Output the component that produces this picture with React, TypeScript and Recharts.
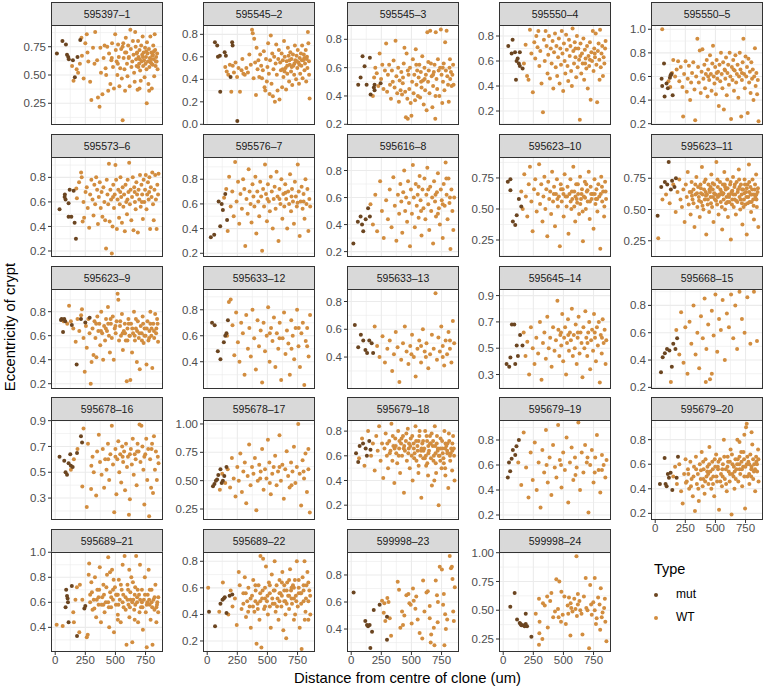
import React from 'react';
import { ScatterChart, Scatter, XAxis, YAxis, CartesianGrid } from 'recharts';

const MUT_COLOR = '#6B4520';
const WT_COLOR = '#D28D3F';
const FONT = '"Liberation Sans", Arial, Helvetica, sans-serif';

type Pt = [number, number];

// distance (um) / eccentricity pairs per clone
const mut01: Pt[] = [[14,0.69],[60,0.80],[89,0.77],[98,0.68],[108,0.66],[113,0.64],[147,0.63],[163,0.48],[185,0.66],[208,0.81]];
const wt01: Pt[] = [[140,0.58],[152,0.45],[178,0.55],[190,0.52],[205,0.60],[218,0.83],[222,0.67],[236,0.47],[250,0.78],[262,0.86],[268,0.70],[275,0.62],[290,0.44],[300,0.28],[314,0.74],[326,0.60],[332,0.88],[348,0.63],[355,0.30],[368,0.22],[375,0.74],[380,0.52],[392,0.33],[402,0.65],[410,0.76],[418,0.56],[423,0.50],[432,0.75],[440,0.36],[447,0.69],[458,0.42],[466,0.63],[472,0.78],[480,0.57],[488,0.38],[498,0.86],[503,0.72],[510,0.62],[516,0.50],[522,0.77],[528,0.66],[533,0.40],[540,0.56],[548,0.73],[553,0.47],[560,0.10],[565,0.78],[568,0.65],[575,0.55],[580,0.36],[586,0.83],[590,0.70],[596,0.60],[600,0.49],[606,0.76],[612,0.66],[618,0.40],[624,0.90],[628,0.73],[633,0.57],[640,0.62],[645,0.80],[650,0.68],[655,0.52],[660,0.44],[664,0.88],[668,0.75],[672,0.64],[676,0.58],[680,0.70],[684,0.37],[688,0.80],[692,0.66],[697,0.60],[700,0.72],[705,0.54],[710,0.45],[714,0.76],[718,0.62],[722,0.68],[726,0.84],[730,0.58],[734,0.70],[738,0.63],[742,0.48],[746,0.74],[750,0.60],[754,0.66],[758,0.55],[762,0.79],[766,0.69],[770,0.62],[774,0.42],[778,0.73],[782,0.57],[786,0.65],[790,0.84],[794,0.61],[798,0.70],[802,0.38],[806,0.67],[810,0.59],[814,0.76],[818,0.64],[822,0.49],[826,0.86],[830,0.72],[834,0.58],[838,0.66],[842,0.62],[846,0.69],[850,0.55],[812,0.68],[792,0.64],[756,0.71],[728,0.66],[702,0.64],[676,0.69],[800,0.60],[820,0.71],[836,0.62],[690,0.57],[760,0.25],[780,0.36],[700,0.38],[610,0.65],[580,0.70],[560,0.75],[520,0.60],[470,0.65]];

const mut02: Pt[] = [[64,0.73],[83,0.70],[89,0.60],[105,0.61],[145,0.64],[155,0.61],[194,0.42],[207,0.73],[211,0.70],[108,0.29],[250,0.03]];
const wt02: Pt[] = [[150,0.51],[162,0.47],[175,0.44],[188,0.53],[200,0.29],[212,0.52],[222,0.46],[235,0.55],[248,0.42],[260,0.50],[272,0.29],[285,0.48],[292,0.58],[300,0.45],[312,0.44],[325,0.50],[338,0.46],[350,0.62],[362,0.53],[372,0.84],[378,0.81],[385,0.41],[390,0.76],[398,0.55],[405,0.26],[410,0.68],[418,0.49],[425,0.57],[432,0.42],[440,0.62],[448,0.52],[455,0.41],[462,0.48],[470,0.65],[476,0.33],[482,0.30],[488,0.58],[495,0.38],[500,0.51],[506,0.72],[512,0.45],[518,0.27],[522,0.57],[528,0.79],[534,0.36],[540,0.63],[545,0.25],[550,0.49],[556,0.60],[562,0.20],[568,0.54],[573,0.71],[578,0.44],[584,0.30],[590,0.58],[595,0.66],[600,0.22],[606,0.55],[612,0.48],[618,0.63],[622,0.33],[628,0.57],[633,0.42],[638,0.74],[644,0.60],[650,0.50],[655,0.31],[660,0.56],[665,0.45],[670,0.68],[676,0.61],[680,0.38],[686,0.53],[690,0.64],[696,0.47],[700,0.58],[706,0.35],[712,0.62],[716,0.52],[722,0.44],[728,0.70],[732,0.57],[738,0.40],[742,0.61],[748,0.50],[752,0.66],[758,0.55],[762,0.36],[768,0.59],[772,0.45],[778,0.63],[782,0.52],[788,0.70],[792,0.41],[798,0.57],[802,0.62],[808,0.48],[812,0.54],[818,0.66],[822,0.38],[828,0.60],[832,0.50],[836,0.82],[840,0.72],[845,0.56],[850,0.23],[846,0.44],[826,0.58],[806,0.59],[786,0.57],[766,0.53],[744,0.56],[724,0.54],[702,0.51],[682,0.57],[664,0.52],[642,0.47],[626,0.49]];

const mut03: Pt[] = [[58,0.48],[78,0.53],[94,0.68],[111,0.61],[128,0.48],[155,0.67],[161,0.41],[188,0.46],[194,0.48],[194,0.44],[244,0.49]];
const wt03: Pt[] = [[180,0.40],[190,0.53],[200,0.60],[212,0.56],[225,0.47],[236,0.70],[248,0.52],[258,0.62],[268,0.45],[280,0.58],[290,0.77],[298,0.43],[305,0.55],[315,0.62],[322,0.48],[330,0.38],[338,0.58],[345,0.50],[352,0.65],[360,0.46],[368,0.79],[375,0.54],[382,0.42],[390,0.60],[396,0.36],[402,0.51],[410,0.44],[416,0.57],[422,0.41],[428,0.49],[436,0.63],[442,0.74],[448,0.43],[454,0.25],[460,0.70],[466,0.38],[470,0.24],[476,0.55],[482,0.45],[488,0.60],[494,0.35],[500,0.26],[506,0.50],[512,0.66],[518,0.42],[524,0.55],[530,0.37],[536,0.73],[542,0.48],[548,0.58],[554,0.40],[560,0.53],[566,0.62],[572,0.39],[578,0.57],[584,0.46],[590,0.68],[596,0.51],[602,0.34],[608,0.60],[614,0.44],[620,0.55],[626,0.30],[632,0.85],[638,0.50],[644,0.58],[650,0.42],[656,0.86],[662,0.63],[668,0.54],[674,0.32],[680,0.47],[686,0.57],[692,0.62],[698,0.24],[702,0.85],[708,0.52],[714,0.45],[720,0.66],[726,0.58],[732,0.40],[738,0.60],[744,0.87],[750,0.55],[756,0.35],[762,0.50],[768,0.63],[774,0.44],[780,0.78],[786,0.58],[792,0.86],[798,0.54],[804,0.48],[810,0.36],[816,0.60],[822,0.52],[828,0.57],[834,0.47],[840,0.55],[846,0.62],[850,0.48],[700,0.40],[610,0.52],[640,0.64],[760,0.60],[820,0.66],[540,0.62],[470,0.58],[430,0.53],[580,0.50],[680,0.55]];

const mut04: Pt[] = [[42,0.72],[78,0.77],[70,0.66],[98,0.67],[111,0.60],[130,0.58],[138,0.56],[161,0.54],[106,0.45],[138,0.67],[120,0.62]];
const wt04: Pt[] = [[172,0.58],[186,0.73],[198,0.48],[210,0.45],[222,0.85],[234,0.66],[246,0.35],[258,0.75],[266,0.62],[275,0.80],[285,0.71],[292,0.84],[300,0.56],[308,0.68],[318,0.42],[330,0.19],[338,0.77],[345,0.60],[352,0.84],[360,0.72],[368,0.50],[374,0.65],[380,0.80],[388,0.46],[395,0.70],[402,0.58],[410,0.76],[416,0.38],[422,0.67],[430,0.82],[436,0.55],[442,0.72],[448,0.48],[456,0.63],[462,0.78],[468,0.42],[474,0.70],[480,0.57],[486,0.84],[492,0.66],[498,0.36],[504,0.74],[510,0.60],[516,0.50],[522,0.81],[528,0.69],[534,0.56],[540,0.44],[546,0.77],[552,0.64],[558,0.72],[564,0.52],[570,0.40],[576,0.86],[582,0.68],[588,0.58],[594,0.75],[600,0.63],[606,0.47],[612,0.80],[618,0.55],[624,0.70],[630,0.61],[636,0.13],[642,0.74],[648,0.50],[654,0.66],[660,0.58],[666,0.78],[672,0.45],[678,0.69],[684,0.62],[690,0.54],[696,0.72],[702,0.38],[708,0.64],[714,0.56],[720,0.75],[726,0.29],[732,0.67],[738,0.60],[744,0.84],[750,0.52],[756,0.70],[762,0.63],[768,0.82],[774,0.57],[780,0.27],[786,0.68],[792,0.74],[798,0.61],[804,0.85],[810,0.55],[816,0.66],[822,0.72],[828,0.48],[834,0.63],[840,0.58],[846,0.70],[850,0.76],[800,0.45],[760,0.66],[720,0.61],[680,0.58],[640,0.64],[600,0.70]];

const mut05: Pt[] = [[53,0.58],[58,0.52],[73,0.71],[94,0.54],[105,0.50],[78,0.43],[122,0.59],[134,0.62],[145,0.44],[128,0.61]];
const wt05: Pt[] = [[58,1.00],[110,0.56],[125,0.51],[140,0.63],[150,0.74],[165,0.60],[178,0.66],[190,0.73],[200,0.56],[212,0.68],[226,0.51],[232,0.26],[240,0.62],[252,0.73],[262,0.47],[270,0.58],[280,0.69],[290,0.40],[298,0.55],[306,0.63],[316,0.72],[326,0.49],[332,0.23],[340,0.60],[350,0.92],[356,0.68],[362,0.55],[370,0.82],[378,0.46],[385,0.64],[392,0.83],[400,0.58],[408,0.70],[414,0.50],[420,0.62],[428,0.74],[434,0.43],[440,0.66],[448,0.57],[455,0.78],[462,0.62],[468,0.48],[474,0.71],[480,0.86],[486,0.60],[492,0.54],[498,0.68],[504,0.45],[510,0.74],[516,0.58],[522,0.64],[528,0.35],[534,0.70],[540,0.56],[546,0.80],[552,0.62],[558,0.50],[564,0.72],[570,0.32],[576,0.66],[582,0.58],[588,0.76],[594,0.44],[600,0.63],[606,0.70],[612,0.53],[618,0.80],[624,0.60],[630,0.24],[636,0.68],[642,0.57],[648,0.74],[654,0.48],[660,0.65],[666,0.78],[672,0.55],[678,0.62],[684,0.70],[690,0.42],[696,0.60],[702,0.80],[708,0.66],[714,0.26],[720,0.57],[726,0.72],[732,0.92],[738,0.62],[744,0.50],[750,0.77],[756,0.60],[762,0.68],[768,0.29],[774,0.75],[780,0.55],[786,0.64],[792,0.46],[798,0.72],[804,0.58],[810,0.66],[816,0.40],[822,0.60],[828,0.84],[834,0.52],[840,0.63],[846,0.45],[852,0.57],[858,0.22],[720,0.63],[650,0.66],[580,0.65],[510,0.63],[440,0.60]];

const mut06: Pt[] = [[36,0.54],[78,0.64],[80,0.66],[86,0.62],[111,0.59],[120,0.70],[153,0.69],[111,0.48],[134,0.48],[161,0.43],[172,0.30]];
const wt06: Pt[] = [[175,0.71],[180,0.63],[198,0.76],[215,0.84],[220,0.80],[228,0.44],[235,0.60],[240,0.47],[252,0.68],[262,0.72],[270,0.55],[282,0.39],[290,0.66],[300,0.78],[310,0.62],[318,0.49],[325,0.74],[332,0.58],[340,0.80],[348,0.70],[355,0.42],[362,0.64],[370,0.76],[378,0.55],[385,0.68],[392,0.48],[400,0.72],[408,0.60],[415,0.45],[422,0.22],[428,0.78],[434,0.66],[440,0.58],[446,0.91],[452,0.44],[458,0.70],[464,0.62],[470,0.18],[476,0.40],[482,0.74],[488,0.55],[494,0.66],[500,0.90],[506,0.78],[512,0.38],[518,0.62],[524,0.70],[530,0.47],[536,0.58],[542,0.80],[548,0.64],[554,0.43],[560,0.72],[566,0.56],[572,0.66],[578,0.36],[584,0.74],[590,0.60],[596,0.50],[602,0.78],[608,0.68],[614,0.92],[620,0.58],[626,0.70],[632,0.45],[638,0.64],[644,0.80],[650,0.37],[656,0.72],[662,0.60],[668,0.54],[674,0.76],[680,0.66],[686,0.35],[692,0.70],[698,0.62],[704,0.82],[710,0.56],[716,0.74],[722,0.66],[728,0.46],[734,0.78],[740,0.60],[746,0.70],[752,0.82],[758,0.54],[764,0.66],[770,0.76],[776,0.62],[782,0.80],[788,0.38],[794,0.72],[800,0.64],[806,0.84],[812,0.58],[818,0.45],[824,0.70],[830,0.82],[836,0.62],[842,0.38],[848,0.74],[854,0.66],[858,0.83],[780,0.68],[720,0.60],[660,0.68],[600,0.62],[540,0.68],[480,0.64]];

const mut07: Pt[] = [[30,0.33],[58,0.35],[95,0.62],[108,0.42],[130,0.55],[150,0.68],[165,0.47],[120,0.60]];
const wt07: Pt[] = [[140,0.65],[158,0.72],[170,0.38],[182,0.82],[195,0.58],[208,0.70],[220,0.50],[232,0.94],[244,0.62],[256,0.78],[266,0.44],[276,0.68],[288,0.56],[298,0.80],[308,0.72],[316,0.26],[326,0.64],[336,0.52],[344,0.88],[352,0.70],[360,0.60],[368,0.45],[376,0.76],[384,0.66],[392,0.58],[400,0.82],[408,0.36],[416,0.70],[424,0.62],[432,0.50],[440,0.78],[448,0.66],[456,0.22],[464,0.72],[472,0.58],[480,0.92],[488,0.68],[496,0.46],[504,0.76],[512,0.62],[520,0.54],[528,0.82],[536,0.70],[544,0.40],[552,0.64],[560,0.74],[568,0.56],[576,0.86],[584,0.66],[592,0.30],[600,0.72],[608,0.60],[616,0.80],[624,0.48],[632,0.68],[640,0.58],[648,0.76],[656,0.64],[664,0.40],[672,0.70],[680,0.60],[688,0.84],[696,0.54],[704,0.72],[712,0.62],[720,0.44],[728,0.78],[736,0.66],[744,0.58],[752,0.92],[760,0.70],[768,0.34],[776,0.62],[784,0.74],[792,0.56],[800,0.68],[808,0.48],[816,0.80],[824,0.60],[832,0.72],[840,0.38],[848,0.64],[855,0.58],[600,0.64],[700,0.66],[500,0.64],[800,0.62],[650,0.69],[750,0.61]];

const mut08: Pt[] = [[18,0.26],[55,0.42],[78,0.46],[100,0.35],[120,0.44],[140,0.52],[155,0.46],[90,0.40]];
const wt08: Pt[] = [[160,0.55],[180,0.40],[200,0.62],[215,0.35],[240,0.72],[255,0.50],[270,0.30],[290,0.58],[305,0.44],[320,0.66],[335,0.38],[350,0.75],[362,0.54],[375,0.28],[388,0.62],[398,0.48],[408,0.70],[416,0.57],[424,0.34],[432,0.64],[440,0.80],[448,0.50],[456,0.60],[464,0.42],[472,0.72],[480,0.56],[488,0.24],[496,0.66],[504,0.48],[512,0.84],[520,0.60],[528,0.38],[536,0.70],[544,0.54],[552,0.62],[560,0.45],[568,0.76],[576,0.58],[584,0.32],[592,0.66],[600,0.52],[608,0.74],[616,0.44],[624,0.62],[632,0.82],[640,0.55],[648,0.36],[656,0.68],[664,0.50],[672,0.60],[680,0.26],[688,0.72],[696,0.57],[704,0.46],[712,0.64],[720,0.78],[728,0.52],[736,0.40],[744,0.66],[752,0.58],[760,0.30],[768,0.70],[776,0.54],[784,0.86],[792,0.62],[800,0.44],[808,0.74],[816,0.56],[824,0.22],[832,0.66],[840,0.50],[848,0.36],[855,0.60],[700,0.62],[640,0.66],[580,0.50],[760,0.55],[820,0.60],[720,0.48],[560,0.68],[790,0.74]];

const mut09: Pt[] = [[38,0.72],[60,0.65],[80,0.40],[100,0.37],[112,0.45],[130,0.58],[150,0.52],[60,0.74]];
const wt09: Pt[] = [[150,0.64],[162,0.50],[175,0.78],[188,0.60],[200,0.44],[212,0.70],[222,0.84],[234,0.56],[244,0.32],[256,0.66],[266,0.74],[278,0.48],[288,0.62],[298,0.86],[306,0.54],[316,0.70],[326,0.40],[334,0.60],[342,0.76],[350,0.50],[358,0.66],[366,0.28],[374,0.72],[382,0.58],[390,0.64],[398,0.46],[406,0.80],[414,0.56],[422,0.68],[430,0.36],[438,0.62],[446,0.74],[454,0.52],[462,0.60],[470,0.20],[478,0.70],[486,0.56],[494,0.66],[502,0.44],[510,0.78],[518,0.60],[526,0.52],[534,0.68],[542,0.30],[550,0.62],[558,0.74],[566,0.50],[574,0.58],[582,0.84],[590,0.64],[598,0.40],[606,0.70],[614,0.55],[622,0.62],[630,0.46],[638,0.76],[646,0.58],[654,0.66],[662,0.24],[670,0.60],[678,0.72],[686,0.50],[694,0.64],[702,0.56],[710,0.80],[718,0.42],[726,0.68],[734,0.58],[742,0.62],[750,0.34],[758,0.74],[766,0.54],[774,0.66],[782,0.48],[790,0.70],[798,0.60],[806,0.18],[814,0.76],[822,0.56],[830,0.64],[838,0.44],[846,0.72],[854,0.58],[600,0.60],[640,0.54],[700,0.65],[760,0.62],[820,0.68],[560,0.56],[500,0.62],[450,0.58],[680,0.59],[720,0.56],[780,0.58],[840,0.52],[620,0.70],[420,0.62],[480,0.66],[530,0.60],[570,0.64],[610,0.58],[650,0.62],[690,0.70],[730,0.62],[770,0.58],[810,0.62],[850,0.64],[590,0.52],[660,0.48]];

const mut10: Pt[] = [[20,0.45],[50,0.68],[80,0.72],[100,0.70],[112,0.88],[140,0.73],[160,0.68],[172,0.75],[130,0.66]];
const wt10: Pt[] = [[25,0.27],[60,0.58],[90,0.62],[120,0.55],[150,0.70],[170,0.48],[185,0.64],[200,0.74],[210,0.58],[222,0.52],[234,0.66],[244,0.40],[254,0.70],[262,0.60],[270,0.80],[278,0.54],[286,0.64],[294,0.46],[302,0.72],[310,0.58],[318,0.66],[326,0.36],[334,0.62],[342,0.76],[350,0.52],[356,0.68],[362,0.60],[370,0.44],[376,0.70],[382,0.56],[388,0.84],[394,0.62],[400,0.50],[406,0.66],[412,0.58],[418,0.74],[424,0.30],[430,0.62],[436,0.54],[442,0.70],[448,0.48],[454,0.64],[460,0.60],[466,0.78],[472,0.52],[478,0.66],[484,0.40],[490,0.70],[496,0.58],[502,0.62],[508,0.88],[514,0.54],[520,0.68],[526,0.46],[532,0.62],[538,0.72],[544,0.56],[550,0.64],[556,0.34],[562,0.70],[568,0.58],[574,0.80],[580,0.50],[586,0.66],[592,0.60],[598,0.74],[604,0.44],[610,0.62],[616,0.56],[622,0.70],[628,0.26],[634,0.64],[640,0.58],[646,0.76],[652,0.52],[658,0.68],[664,0.62],[670,0.46],[676,0.72],[682,0.56],[688,0.66],[694,0.82],[700,0.60],[706,0.50],[712,0.70],[718,0.62],[724,0.38],[730,0.66],[736,0.58],[742,0.74],[748,0.54],[754,0.64],[760,0.30],[766,0.70],[772,0.60],[778,0.86],[784,0.56],[790,0.68],[796,0.48],[802,0.62],[808,0.74],[814,0.58],[820,0.42],[826,0.66],[832,0.60],[838,0.78],[844,0.52],[850,0.64],[856,0.36],[640,0.65],[600,0.56],[560,0.62],[520,0.60],[480,0.60],[700,0.68],[740,0.63],[780,0.64],[820,0.62],[460,0.68],[420,0.64],[380,0.63],[660,0.58],[720,0.55],[760,0.67],[800,0.56],[840,0.62],[300,0.64],[580,0.68],[620,0.62],[305,0.61],[318,0.55],[333,0.70],[347,0.63],[364,0.57],[379,0.67],[393,0.53],[408,0.72],[421,0.61],[437,0.58],[451,0.66],[463,0.55],[477,0.71],[489,0.63],[505,0.57],[517,0.74],[529,0.61],[541,0.66],[553,0.52],[566,0.63],[577,0.70],[589,0.55],[601,0.67],[613,0.60],[626,0.72],[637,0.54],[649,0.62],[661,0.70],[673,0.57],[685,0.64],[697,0.74],[709,0.58],[721,0.66],[733,0.52],[745,0.70],[757,0.60],[769,0.55],[781,0.72],[793,0.62],[805,0.66],[817,0.53],[829,0.70],[841,0.58],[853,0.67]];

const mut11: Pt[] = [[48,0.73],[53,0.74],[65,0.63],[83,0.72],[138,0.69],[214,0.74],[250,0.71],[286,0.75],[178,0.36],[75,0.74]];
const wt11: Pt[] = [[70,0.72],[100,0.70],[115,0.85],[130,0.72],[150,0.66],[170,0.55],[185,0.74],[200,0.64],[215,0.77],[222,0.82],[235,0.58],[245,0.30],[255,0.68],[262,0.50],[275,0.74],[285,0.62],[295,0.20],[302,0.38],[310,0.66],[318,0.44],[326,0.72],[334,0.58],[342,0.42],[350,0.76],[358,0.64],[366,0.70],[374,0.52],[382,0.80],[390,0.62],[398,0.40],[406,0.68],[414,0.56],[422,0.74],[430,0.64],[438,0.84],[446,0.60],[454,0.46],[462,0.70],[470,0.58],[478,0.76],[486,0.40],[494,0.66],[502,0.62],[510,0.72],[518,0.95],[524,0.90],[530,0.56],[538,0.68],[546,0.60],[554,0.78],[562,0.48],[570,0.64],[578,0.70],[586,0.56],[594,0.22],[600,0.66],[608,0.74],[616,0.60],[624,0.23],[630,0.70],[638,0.46],[646,0.62],[654,0.80],[662,0.56],[670,0.66],[678,0.38],[686,0.72],[694,0.58],[702,0.32],[710,0.68],[718,0.62],[726,0.76],[734,0.54],[742,0.66],[750,0.60],[758,0.36],[766,0.72],[774,0.56],[782,0.64],[790,0.80],[798,0.60],[806,0.33],[814,0.70],[822,0.58],[830,0.78],[838,0.62],[846,0.74],[854,0.55],[560,0.62],[620,0.60],[680,0.64],[740,0.60],[800,0.66],[840,0.66],[500,0.68],[440,0.70],[380,0.64],[340,0.70],[420,0.66],[460,0.74],[540,0.72],[580,0.62],[610,0.70],[640,0.66],[670,0.74],[700,0.62],[730,0.70],[760,0.66],[790,0.70],[820,0.64],[850,0.70],[600,0.56],[660,0.60],[720,0.56],[780,0.58]];

const mut12: Pt[] = [[40,0.70],[62,0.68],[88,0.48],[110,0.42],[138,0.55],[150,0.60],[160,0.62],[172,0.72]];
const wt12: Pt[] = [[165,0.60],[180,0.86],[195,0.88],[210,0.68],[225,0.45],[240,0.78],[255,0.55],[268,0.40],[282,0.70],[296,0.62],[310,0.30],[324,0.76],[338,0.50],[350,0.66],[362,0.44],[376,0.80],[390,0.58],[404,0.34],[418,0.72],[430,0.52],[444,0.64],[456,0.24],[468,0.70],[480,0.48],[494,0.60],[506,0.82],[518,0.40],[530,0.66],[542,0.56],[554,0.74],[566,0.36],[578,0.62],[590,0.50],[602,0.70],[614,0.26],[626,0.58],[638,0.78],[650,0.46],[662,0.64],[674,0.54],[686,0.30],[698,0.72],[710,0.60],[722,0.42],[734,0.66],[746,0.80],[758,0.52],[770,0.36],[782,0.62],[794,0.70],[806,0.22],[818,0.56],[830,0.66],[842,0.44],[854,0.76],[520,0.62],[600,0.58],[700,0.50],[760,0.66],[830,0.52]];

const mut13: Pt[] = [[30,0.63],[58,0.47],[80,0.56],[100,0.52],[118,0.45],[132,0.43],[150,0.52],[170,0.50],[182,0.43]];
const wt13: Pt[] = [[195,0.62],[215,0.48],[235,0.40],[260,0.55],[280,0.36],[300,0.46],[320,0.52],[340,0.30],[355,0.42],[370,0.58],[385,0.47],[400,0.22],[415,0.38],[430,0.50],[445,0.62],[460,0.44],[475,0.35],[490,0.48],[505,0.56],[520,0.40],[535,0.26],[550,0.46],[565,0.52],[580,0.36],[595,0.60],[610,0.44],[625,0.50],[640,0.32],[655,0.42],[670,0.56],[685,0.46],[700,0.86],[712,0.38],[724,0.54],[736,0.44],[748,0.62],[760,0.48],[772,0.34],[784,0.52],[796,0.42],[808,0.58],[820,0.46],[832,0.36],[844,0.66],[855,0.50],[760,0.40],[820,0.52],[620,0.40],[580,0.48],[500,0.42]];

const mut14: Pt[] = [[28,0.38],[50,0.36],[60,0.43],[72,0.68],[92,0.68],[100,0.38],[112,0.52],[122,0.44],[140,0.60],[160,0.52]];
const wt14: Pt[] = [[170,0.62],[185,0.44],[200,0.55],[215,0.30],[230,0.66],[245,0.50],[260,0.38],[275,0.58],[290,0.46],[305,0.70],[318,0.26],[330,0.54],[342,0.62],[354,0.42],[366,0.74],[378,0.50],[390,0.58],[402,0.36],[414,0.66],[426,0.48],[438,0.56],[450,0.86],[458,0.64],[466,0.44],[474,0.60],[482,0.52],[490,0.76],[498,0.40],[506,0.58],[514,0.66],[522,0.30],[530,0.54],[538,0.72],[546,0.48],[554,0.62],[562,0.56],[570,0.80],[578,0.44],[586,0.60],[594,0.50],[602,0.68],[610,0.38],[618,0.58],[626,0.74],[634,0.46],[642,0.62],[650,0.54],[658,0.28],[666,0.66],[674,0.50],[682,0.78],[690,0.58],[698,0.44],[706,0.62],[714,0.70],[722,0.34],[730,0.56],[738,0.64],[746,0.48],[754,0.76],[762,0.58],[770,0.40],[778,0.66],[786,0.52],[794,0.70],[802,0.24],[810,0.60],[818,0.46],[826,0.72],[834,0.54],[842,0.64],[850,0.38],[856,0.56],[620,0.62],[700,0.54],[760,0.62],[540,0.60],[480,0.62],[820,0.58]];

const mut15: Pt[] = [[48,0.31],[62,0.42],[80,0.45],[98,0.48],[118,0.47],[138,0.35],[150,0.52],[168,0.48],[182,0.56]];
const wt15: Pt[] = [[130,0.24],[175,0.62],[200,0.44],[215,0.75],[235,0.38],[250,0.64],[268,0.30],[285,0.68],[300,0.52],[318,0.80],[335,0.44],[350,0.60],[365,0.34],[380,0.72],[395,0.56],[410,0.85],[425,0.48],[440,0.66],[455,0.26],[470,0.76],[485,0.58],[500,0.88],[515,0.46],[530,0.70],[545,0.62],[560,0.84],[578,0.40],[595,0.74],[612,0.64],[630,0.88],[648,0.56],[665,0.80],[680,0.48],[700,0.90],[720,0.70],[742,0.60],[765,0.86],[790,0.52],[820,0.90],[845,0.54],[420,0.24],[470,0.30]];

const mut16: Pt[] = [[36,0.62],[75,0.59],[86,0.50],[98,0.48],[111,0.57],[125,0.64],[130,0.55],[145,0.54],[181,0.65],[214,0.78],[223,0.73]];
const wt16: Pt[] = [[130,0.52],[155,0.60],[185,0.68],[225,0.39],[235,0.84],[262,0.23],[272,0.72],[298,0.37],[300,0.55],[310,0.62],[320,0.50],[340,0.32],[348,0.66],[362,0.79],[372,0.58],[385,0.48],[395,0.68],[406,0.38],[415,0.60],[426,0.52],[438,0.72],[448,0.44],[458,0.64],[470,0.86],[480,0.56],[490,0.19],[500,0.68],[508,0.33],[516,0.60],[524,0.74],[532,0.50],[540,0.64],[548,0.42],[556,0.70],[564,0.58],[572,0.66],[580,0.36],[588,0.72],[596,0.54],[604,0.62],[612,0.17],[620,0.29],[628,0.68],[636,0.56],[644,0.76],[652,0.48],[660,0.64],[668,0.60],[676,0.40],[684,0.72],[692,0.66],[700,0.87],[708,0.58],[716,0.86],[724,0.70],[732,0.52],[740,0.25],[748,0.64],[756,0.76],[764,0.44],[772,0.68],[780,0.16],[788,0.60],[796,0.38],[804,0.72],[812,0.34],[820,0.78],[828,0.52],[836,0.66],[844,0.44],[852,0.62],[858,0.57],[800,0.68],[740,0.62],[680,0.66],[620,0.64],[560,0.62],[500,0.62],[440,0.60]];

const mut17: Pt[] = [[48,0.45],[60,0.47],[72,0.50],[82,0.51],[92,0.55],[110,0.60],[130,0.50],[142,0.54],[160,0.62],[120,0.48]];
const wt17: Pt[] = [[105,0.42],[125,0.56],[150,0.48],[170,0.60],[190,0.44],[205,0.70],[220,0.52],[235,0.36],[250,0.62],[262,0.50],[275,0.74],[288,0.40],[300,0.58],[312,0.66],[324,0.30],[336,0.54],[348,0.82],[360,0.46],[372,0.62],[384,0.56],[396,0.70],[408,0.24],[420,0.50],[432,0.64],[444,0.58],[456,0.78],[468,0.42],[480,0.60],[492,0.52],[504,0.86],[516,0.66],[528,0.38],[540,0.56],[552,0.62],[564,0.72],[576,0.46],[588,0.58],[600,0.90],[612,0.50],[624,0.64],[636,0.34],[648,0.60],[660,0.76],[672,0.54],[684,0.44],[696,0.66],[708,0.58],[720,0.80],[732,0.48],[744,0.62],[756,1.00],[768,0.56],[780,0.28],[792,0.68],[804,0.52],[816,0.74],[828,0.40],[840,0.60],[852,0.22],[700,0.46],[600,0.62],[520,0.48],[440,0.52],[800,0.58],[840,0.78]];

const mut18: Pt[] = [[40,0.62],[58,0.55],[70,0.68],[98,0.70],[120,0.66],[130,0.60],[150,0.72],[160,0.65]];
const wt18: Pt[] = [[65,0.58],[90,0.74],[110,0.52],[140,0.80],[165,0.60],[180,0.70],[195,0.48],[208,0.76],[220,0.64],[232,0.84],[244,0.56],[256,0.70],[266,0.42],[276,0.66],[286,0.78],[296,0.60],[306,0.50],[316,0.72],[326,0.64],[334,0.86],[342,0.56],[350,0.68],[358,0.38],[366,0.74],[374,0.62],[382,0.54],[390,0.80],[398,0.66],[406,0.46],[414,0.70],[422,0.60],[430,0.76],[438,0.30],[446,0.64],[454,0.72],[462,0.56],[470,0.82],[478,0.66],[486,0.50],[494,0.74],[502,0.60],[510,0.40],[518,0.70],[526,0.62],[534,0.84],[542,0.56],[550,0.68],[558,0.46],[566,0.76],[574,0.60],[582,0.26],[590,0.70],[598,0.58],[606,0.66],[614,0.80],[622,0.52],[630,0.72],[638,0.44],[646,0.64],[654,0.76],[662,0.58],[670,0.36],[678,0.68],[686,0.60],[694,0.84],[702,0.54],[710,0.70],[718,0.64],[726,0.20],[734,0.60],[742,0.74],[750,0.50],[758,0.66],[766,0.58],[774,0.80],[782,0.44],[790,0.68],[798,0.62],[806,0.34],[814,0.72],[822,0.56],[830,0.66],[838,0.48],[846,0.76],[854,0.60],[858,0.40],[520,0.66],[560,0.72],[600,0.64],[640,0.68],[680,0.72],[720,0.66],[760,0.62],[800,0.70],[840,0.64],[480,0.70],[440,0.68],[400,0.72],[360,0.66],[620,0.60],[700,0.62],[780,0.66],[820,0.60],[660,0.70],[740,0.56],[580,0.64],[300,0.70],[320,0.62],[345,0.76],[370,0.68],[395,0.60],[418,0.74],[436,0.66],[458,0.78],[474,0.62],[491,0.68],[507,0.76],[523,0.58],[539,0.72],[552,0.64],[568,0.80],[584,0.66],[597,0.72],[611,0.58],[626,0.76],[641,0.62],[655,0.70],[668,0.78],[683,0.56],[697,0.68],[712,0.76],[727,0.60],[741,0.66],[755,0.72],[769,0.54],[783,0.70],[797,0.64],[811,0.78],[826,0.62],[840,0.70],[852,0.66],[632,0.54],[705,0.46],[780,0.50],[690,0.40],[560,0.52]];

const mut19: Pt[] = [[38,0.50],[48,0.62],[58,0.55],[70,0.65],[80,0.72],[100,0.68],[110,0.75],[130,0.80]];
const wt19: Pt[] = [[125,0.62],[150,0.44],[170,0.86],[190,0.58],[210,0.34],[228,0.70],[245,0.48],[262,0.78],[278,0.40],[294,0.62],[310,0.26],[325,0.72],[340,0.54],[355,0.88],[370,0.46],[385,0.66],[400,0.36],[414,0.76],[428,0.58],[442,0.50],[456,0.92],[470,0.64],[484,0.42],[498,0.70],[512,0.56],[526,0.82],[540,0.30],[554,0.62],[568,0.74],[582,0.48],[596,0.66],[610,0.58],[624,0.94],[638,0.40],[652,0.70],[666,0.54],[680,0.76],[694,0.62],[708,0.22],[722,0.60],[736,0.72],[750,0.46],[764,0.66],[778,0.84],[792,0.56],[806,0.38],[820,0.68],[834,0.60],[848,0.50],[858,0.64],[600,0.52],[700,0.66],[480,0.60],[360,0.60],[760,0.54],[820,0.56]];

const mut20: Pt[] = [[39,0.44],[78,0.65],[86,0.44],[105,0.52],[114,0.49],[128,0.53],[142,0.39],[178,0.49],[189,0.66],[95,0.42]];
const wt20: Pt[] = [[150,0.50],[165,0.58],[180,0.44],[200,0.60],[215,0.38],[228,0.28],[240,0.52],[252,0.64],[262,0.46],[272,0.56],[282,0.40],[292,0.62],[302,0.48],[312,0.34],[322,0.58],[330,0.22],[338,0.66],[346,0.44],[354,0.52],[362,0.30],[370,0.60],[378,0.48],[386,0.70],[394,0.42],[402,0.56],[410,0.36],[418,0.64],[426,0.50],[434,0.58],[442,0.44],[450,0.74],[458,0.54],[466,0.40],[474,0.62],[482,0.50],[490,0.34],[498,0.58],[506,0.68],[514,0.46],[522,0.56],[530,0.23],[538,0.64],[546,0.52],[554,0.42],[562,0.60],[570,0.80],[578,0.48],[586,0.56],[594,0.38],[602,0.66],[610,0.54],[618,0.46],[626,0.72],[634,0.19],[642,0.60],[650,0.50],[658,0.40],[666,0.64],[674,0.56],[682,0.80],[690,0.46],[698,0.60],[706,0.52],[714,0.70],[722,0.42],[730,0.58],[738,0.64],[746,0.24],[754,0.90],[760,0.93],[766,0.50],[774,0.62],[782,0.44],[790,0.68],[798,0.56],[806,0.76],[814,0.48],[822,0.60],[830,0.38],[838,0.66],[846,0.54],[854,0.72],[858,0.46],[600,0.58],[640,0.52],[680,0.60],[720,0.56],[760,0.60],[800,0.58],[840,0.62],[560,0.50],[520,0.58],[480,0.44],[440,0.52],[400,0.48],[700,0.66],[780,0.52],[620,0.62],[660,0.54],[740,0.50],[820,0.54],[255,0.45],[275,0.52],[297,0.42],[318,0.50],[340,0.56],[358,0.40],[380,0.55],[398,0.62],[415,0.46],[432,0.54],[448,0.60],[463,0.48],[478,0.56],[494,0.64],[509,0.50],[525,0.62],[541,0.46],[557,0.56],[573,0.66],[589,0.44],[605,0.62],[621,0.52],[637,0.68],[653,0.58],[669,0.48],[685,0.64],[701,0.56],[717,0.62],[733,0.70],[749,0.58],[765,0.66],[781,0.60],[797,0.50],[813,0.64],[829,0.56],[845,0.60],[857,0.64],[700,0.78],[740,0.84],[800,0.86]];

const mut21: Pt[] = [[91,0.70],[98,0.65],[103,0.63],[106,0.60],[86,0.56],[111,0.44],[138,0.73],[181,0.33],[250,0.57],[242,0.55]];
const wt21: Pt[] = [[12,0.42],[62,0.41],[150,0.52],[155,0.44],[168,0.62],[180,0.72],[200,0.36],[205,0.74],[225,0.62],[262,0.32],[270,0.34],[282,0.91],[278,0.82],[290,0.66],[300,0.76],[310,0.54],[320,0.62],[330,0.80],[340,0.48],[350,0.70],[360,0.58],[370,0.88],[380,0.44],[390,0.64],[400,0.74],[410,0.52],[420,0.60],[430,0.82],[440,0.96],[448,0.40],[456,0.68],[464,0.56],[472,0.86],[480,0.62],[488,0.36],[496,0.72],[504,0.58],[512,0.66],[520,0.50],[528,0.78],[536,0.62],[544,0.44],[552,0.70],[560,0.90],[568,0.56],[576,0.97],[584,0.64],[592,0.26],[600,0.74],[608,0.58],[616,0.48],[624,0.68],[632,0.80],[640,0.28],[648,0.62],[656,0.54],[664,0.72],[672,0.97],[680,0.60],[688,0.44],[696,0.66],[704,0.90],[712,0.56],[720,0.70],[728,0.38],[736,0.62],[744,0.80],[752,0.52],[760,0.24],[768,0.66],[776,0.86],[784,0.58],[792,0.46],[800,0.70],[808,0.26],[816,0.62],[824,0.54],[832,0.74],[840,0.44],[848,0.60],[856,0.64],[600,0.62],[640,0.60],[680,0.64],[720,0.60],[760,0.58],[800,0.60],[840,0.56],[560,0.60],[520,0.66],[480,0.70],[440,0.60],[400,0.58],[360,0.64],[700,0.52],[780,0.62],[620,0.56],[660,0.66],[290,0.60],[305,0.68],[325,0.55],[345,0.62],[365,0.70],[385,0.58],[405,0.66],[425,0.72],[445,0.56],[465,0.64],[485,0.78],[505,0.66],[525,0.58],[545,0.74],[565,0.66],[585,0.54],[605,0.70],[625,0.62],[645,0.76],[665,0.58],[685,0.70],[705,0.62],[725,0.56],[745,0.66],[765,0.60],[785,0.70],[805,0.56],[825,0.64],[845,0.58],[855,0.52],[615,0.86],[455,0.84],[520,0.46],[660,0.46]];

const mut22: Pt[] = [[15,0.42],[65,0.31],[110,0.48],[127,0.51],[138,0.52],[146,0.53],[186,0.54],[208,0.55],[160,0.41]];
const wt22: Pt[] = [[8,0.60],[100,0.42],[130,0.64],[175,0.40],[195,0.58],[210,0.46],[230,0.52],[245,0.32],[262,0.72],[270,0.62],[285,0.44],[300,0.56],[312,0.68],[322,0.38],[332,0.50],[342,0.60],[352,0.46],[362,0.30],[372,0.54],[382,0.66],[392,0.42],[402,0.58],[410,0.18],[418,0.48],[426,0.62],[434,0.36],[442,0.84],[450,0.15],[456,0.52],[464,0.82],[472,0.44],[480,0.60],[488,0.76],[496,0.50],[504,0.40],[512,0.64],[520,0.56],[528,0.30],[536,0.70],[544,0.48],[552,0.58],[560,0.80],[568,0.42],[576,0.62],[584,0.52],[592,0.36],[600,0.66],[608,0.56],[616,0.46],[624,0.72],[632,0.28],[640,0.58],[648,0.50],[656,0.22],[664,0.64],[672,0.54],[680,0.44],[688,0.74],[696,0.58],[704,0.48],[712,0.62],[720,0.36],[728,0.66],[736,0.54],[744,0.80],[752,0.46],[760,0.60],[768,0.30],[776,0.56],[784,0.14],[792,0.68],[800,0.50],[808,0.80],[816,0.42],[824,0.62],[832,0.72],[840,0.36],[848,0.58],[856,0.40],[600,0.50],[640,0.62],[680,0.54],[720,0.52],[760,0.56],[800,0.58],[840,0.50],[560,0.48],[520,0.46],[480,0.52],[440,0.56],[400,0.50],[700,0.60],[780,0.48],[620,0.54],[660,0.48],[300,0.48],[320,0.56],[340,0.42],[360,0.52],[380,0.46],[400,0.62],[420,0.44],[440,0.50],[460,0.58],[480,0.46],[500,0.54],[520,0.62],[540,0.52],[560,0.58],[580,0.46],[600,0.56],[620,0.64],[640,0.50],[660,0.58],[680,0.66],[700,0.52],[720,0.60],[740,0.50],[760,0.66],[780,0.56],[800,0.62],[820,0.52],[840,0.64],[855,0.54],[650,0.40],[730,0.40],[810,0.36]];

const mut23: Pt[] = [[20,0.67],[117,0.46],[131,0.43],[153,0.43],[140,0.42],[173,0.38],[187,0.54],[159,0.26],[236,0.58],[297,0.49],[297,0.32]];
const wt23: Pt[] = [[256,0.61],[270,0.52],[275,0.59],[283,0.46],[300,0.63],[310,0.60],[320,0.48],[331,0.35],[386,0.75],[397,0.69],[408,0.41],[422,0.53],[430,0.43],[441,0.50],[458,0.65],[475,0.66],[483,0.59],[494,0.58],[502,0.44],[513,0.70],[519,0.61],[533,0.55],[552,0.47],[568,0.37],[597,0.76],[590,0.33],[608,0.53],[625,0.67],[636,0.68],[652,0.57],[652,0.48],[664,0.36],[686,0.41],[702,0.76],[712,0.65],[718,0.45],[735,0.86],[753,0.84],[763,0.58],[769,0.66],[774,0.28],[780,0.51],[786,0.40],[797,0.47],[818,0.94],[828,0.85],[836,0.86],[841,0.77],[847,0.53],[852,0.46],[860,0.71],[691,0.28],[660,0.30],[720,0.60],[540,0.64]];

const mut24: Pt[] = [[59,0.53],[95,0.65],[115,0.42],[137,0.39],[151,0.37],[164,0.37],[178,0.36],[187,0.38],[198,0.36],[187,0.47],[234,0.27],[144,0.38]];
const wt24: Pt[] = [[270,0.47],[297,0.60],[302,0.40],[300,0.30],[297,0.20],[325,0.25],[330,0.56],[345,0.54],[370,0.35],[390,0.58],[400,0.65],[415,0.44],[441,0.77],[455,0.51],[460,0.44],[466,0.75],[483,0.66],[494,0.46],[508,0.62],[520,0.38],[535,0.54],[546,0.61],[558,0.28],[565,0.52],[575,0.49],[590,0.60],[608,0.97],[612,0.45],[620,0.55],[633,0.58],[640,0.50],[650,0.47],[658,0.29],[685,0.78],[690,0.52],[700,0.50],[713,0.17],[722,0.72],[735,0.46],[748,0.57],[760,0.78],[770,0.38],[776,0.43],[788,0.61],[800,0.55],[810,0.69],[818,0.44],[825,0.48],[838,0.52],[848,0.40],[857,0.23],[844,0.60],[805,0.33],[730,0.55],[670,0.62],[600,0.51],[560,0.56],[480,0.40],[430,0.49],[365,0.62],[620,0.64],[540,0.47],[760,0.50]];

const PANEL_IDS = ['595397–1','595545–2','595545–3','595550–4','595550–5','595573–6','595576–7','595616–8','595623–10','595623–11','595623–9','595633–12','595633–13','595645–14','595668–15','595678–16','595678–17','595679–18','595679–19','595679–20','595689–21','595689–22','599998–23','599998–24'];
const MUT = [mut01,mut02,mut03,mut04,mut05,mut06,mut07,mut08,mut09,mut10,mut11,mut12,mut13,mut14,mut15,mut16,mut17,mut18,mut19,mut20,mut21,mut22,mut23,mut24];
const WT = [wt01,wt02,wt03,wt04,wt05,wt06,wt07,wt08,wt09,wt10,wt11,wt12,wt13,wt14,wt15,wt16,wt17,wt18,wt19,wt20,wt21,wt22,wt23,wt24];

// free y scales: [min, max] and breaks per facet
const Y_DOMAINS: [number, number][] = [
  [0.058, 0.942], [-0.006, 0.883], [0.195, 0.901], [0.088, 0.888], [0.189, 1.036],
  [0.151, 0.966], [0.17, 0.98], [0.16, 0.90], [0.113, 0.919], [0.12, 0.92],
  [0.156, 0.989], [0.19, 0.96], [0.17, 0.89], [0.19, 0.95], [0.188, 0.92],
  [0.13, 0.905], [0.153, 1.035], [0.08, 0.89], [0.16, 0.96], [0.146, 0.96],
  [0.203, 1.002], [0.117, 0.87], [0.23, 0.97], [0.137, 1.006],
];
const T_Q = [0.25, 0.5, 0.75];
const T_2 = [0.2, 0.4, 0.6, 0.8];
const Y_TICKS: number[][] = [
  T_Q, [0, 0.2, 0.4, 0.6, 0.8], T_2, T_2, [0.2, 0.4, 0.6, 0.8, 1.0],
  T_2, T_2, T_2, T_Q, T_Q,
  T_2, [0.4, 0.6, 0.8], [0.4, 0.6, 0.8], [0.3, 0.5, 0.7, 0.9], T_2,
  [0.3, 0.5, 0.7, 0.9], [0.25, 0.5, 0.75, 1.0], T_2, T_2, T_2,
  [0.4, 0.6, 0.8, 1.0], T_2, [0.4, 0.6, 0.8], [0.25, 0.5, 0.75, 1.0],
];

const X_DOMAIN: [number, number] = [-35, 895];
const X_TICKS = [0, 250, 500, 750];
const X_MINOR = [125, 375, 625];

const COL_LEFT = [51, 203, 347, 499, 651];
const ROW_TOP = [2, 134, 266, 397, 529];
const PLOT_W = 112;
const PLOT_H = 100;
const STRIP_H = 23;
const AXIS_W = 30;
const PAD = 8;

const toRows = (pts: Pt[]) => pts.map(([x, y]) => ({ x, y }));

const dot = (color: string) => (p: any) => (
  <circle cx={p.cx} cy={p.cy} r={2} fill={color} />
);

const Facet = ({ i }: { i: number }) => {
  const col = i % 5;
  const row = Math.floor(i / 5);
  const left = COL_LEFT[col];
  const top = ROW_TOP[row];
  const showX = row === 4 || (row === 3 && col === 4);
  const dom = Y_DOMAINS[i];
  const ticks = Y_TICKS[i];
  const dp = ticks.some(t => Math.round(t * 10) !== t * 10) ? 2 : 1;
  const step = ticks[1] - ticks[0];
  const minor: number[] = [];
  for (let k = -1; k < ticks.length; k++) {
    const v = ticks[0] + step * (k + 0.5);
    if (v > dom[0] && v < dom[1]) minor.push(v);
  }
  const tickStyle = { fill: '#4D4D4D', fontSize: 11.5, fontFamily: FONT };

  return (
    <>
      <div style={{ position: 'absolute', left, top, width: PLOT_W, height: STRIP_H + 1, boxSizing: 'border-box', background: '#D9D9D9', border: '1px solid #333', fontFamily: FONT, fontSize: 10.5, color: '#1A1A1A', display: 'flex', alignItems: 'center', justifyContent: 'center' }}>
        {PANEL_IDS[i]}
      </div>
      <div style={{ position: 'absolute', left: left - AXIS_W, top: top + STRIP_H - PAD }}>
        <ScatterChart width={AXIS_W + PLOT_W} height={PLOT_H + PAD + (showX ? 20 : PAD)} margin={{ top: PAD, right: 0, bottom: showX ? 0 : PAD, left: 0 }}>
          <CartesianGrid stroke="#EBEBEB" strokeWidth={0.6} verticalValues={X_MINOR} horizontalValues={minor} fill="#FFFFFF" />
          <CartesianGrid stroke="#EBEBEB" strokeWidth={1.1} verticalValues={X_TICKS} horizontalValues={ticks} />
          <XAxis type="number" dataKey="x" domain={X_DOMAIN} allowDataOverflow ticks={X_TICKS} hide={!showX} height={20} axisLine={false} tickLine={{ stroke: '#333' }} tickSize={3} tickMargin={1} tick={tickStyle} />
          <YAxis type="number" dataKey="y" domain={dom} allowDataOverflow ticks={ticks} width={AXIS_W} axisLine={false} tickLine={{ stroke: '#333' }} tickSize={3} tickMargin={2} tick={tickStyle} tickFormatter={(v: number) => v.toFixed(dp)} />
          <Scatter data={toRows(WT[i])} shape={dot(WT_COLOR)} isAnimationActive={false} />
          <Scatter data={toRows(MUT[i])} shape={dot(MUT_COLOR)} isAnimationActive={false} />
        </ScatterChart>
      </div>
      <div style={{ position: 'absolute', left, top: top + STRIP_H, width: PLOT_W, height: PLOT_H, boxSizing: 'border-box', border: '1px solid #333', pointerEvents: 'none' }} />
    </>
  );
};

export default function App() {
  return (
    <div style={{ position: 'absolute', left: 0, top: 0, width: 765, height: 691, background: '#FFFFFF', fontFamily: FONT, overflow: 'hidden' }}>
      {PANEL_IDS.map((_, i) => <Facet key={i} i={i} />)}

      {/* axis titles */}
      <div style={{ position: 'absolute', left: 0, top: 670, width: 765, paddingLeft: 50, boxSizing: 'border-box', textAlign: 'center', fontSize: 14.8, color: '#000' }}>
        Distance from centre of clone (um)
      </div>
      <div style={{ position: 'absolute', left: 10, top: 327, width: 0, height: 0 }}>
        <div style={{ position: 'absolute', left: 0, top: 0, transform: 'translate(-50%, -50%) rotate(-90deg)', whiteSpace: 'nowrap', fontSize: 14.8, color: '#000' }}>
          Eccentricity of crypt
        </div>
      </div>

      {/* legend */}
      <div style={{ position: 'absolute', left: 654, top: 561, fontSize: 14.5, color: '#000' }}>Type</div>
      <svg style={{ position: 'absolute', left: 646, top: 585 }} width={20} height={44}>
        <circle cx={10} cy={10} r={2} fill={MUT_COLOR} />
        <circle cx={10} cy={33} r={2} fill={WT_COLOR} />
      </svg>
      <div style={{ position: 'absolute', left: 676, top: 587, fontSize: 12, color: '#000' }}>mut</div>
      <div style={{ position: 'absolute', left: 676, top: 610, fontSize: 12, color: '#000' }}>WT</div>
    </div>
  );
}
